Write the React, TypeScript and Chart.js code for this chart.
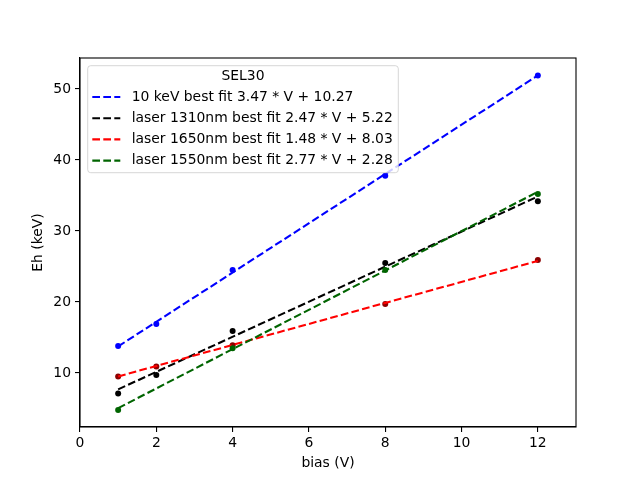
import React, { useEffect, useRef } from "react";
import { Chart, registerables } from "chart.js";

Chart.register(...registerables);

// measured points
const blueX = [1, 2, 4, 8, 12];
const blueY = [13.8, 16.9, 24.5, 37.8, 51.9];
const blackX = [1, 2, 4, 8, 12];
const blackY = [7.1, 9.7, 15.9, 25.5, 34.2];
const redX = [1, 2, 4, 8, 12];
const redY = [9.5, 10.9, 13.9, 19.7, 25.9];
const greenX = [1, 4, 8, 12];
const greenY = [4.8, 13.5, 24.5, 35.2];

// best fit lines, ends at 1 V and 12 V
const fitX = [1, 12];
const fitBlue = [13.74, 51.91];
const fitBlack = [7.69, 34.86];
const fitRed = [9.51, 25.79];
const fitGreen = [5.05, 35.52];

const fitLabels = [
  "10 keV best fit 3.47 * V + 10.27",
  "laser 1310nm best fit 2.47 * V + 5.22",
  "laser 1650nm best fit 1.48 * V + 8.03",
  "laser 1550nm best fit 2.77 * V + 2.28",
];
const legendTitle = "SEL30";

const xTicks = [0, 2, 4, 6, 8, 10, 12];
const yTicks = [10, 20, 30, 40, 50];

const FONT = "DejaVu Sans";
const FS = 13.9;
const DASH = [7.7, 3.3];
const LW = 2.08;
const lineColors = ["#0000ff", "#000000", "#ff0000", "#006400"];
const dotColors = ["#0000ff", "#000000", "#8b0000", "#006400"];

const pts = (xs: number[], ys: number[]) => xs.map((x, i) => ({ x, y: ys[i] }));

const framePlugin = {
  id: "frame",
  afterDraw(chart: any) {
    const { ctx, chartArea } = chart;
    ctx.save();
    ctx.strokeStyle = "#000";
    ctx.lineWidth = 1.1;
    ctx.strokeRect(chartArea.left, chartArea.top, chartArea.right - chartArea.left, chartArea.bottom - chartArea.top);

    // legend box
    const bx = 87.7, by = 65.7, bw = 310.6, bh = 107;
    ctx.beginPath();
    ctx.roundRect(bx, by, bw, bh, 3);
    ctx.fillStyle = "rgba(255,255,255,0.8)";
    ctx.fill();
    ctx.strokeStyle = "rgba(204,204,204,0.8)";
    ctx.lineWidth = 1;
    ctx.stroke();

    ctx.font = `${FS}px "${FONT}"`;
    ctx.fillStyle = "#000";
    ctx.textBaseline = "middle";
    ctx.textAlign = "center";
    ctx.fillText(legendTitle, bx + bw / 2, 76.5);
    ctx.textAlign = "left";
    const rows = [97, 118.2, 139.4, 160.6];
    fitLabels.forEach((label, i) => {
      ctx.beginPath();
      ctx.setLineDash(DASH);
      ctx.strokeStyle = lineColors[i];
      ctx.lineWidth = LW;
      ctx.moveTo(92.3, rows[i]);
      ctx.lineTo(120.3, rows[i]);
      ctx.stroke();
      ctx.setLineDash([]);
      ctx.fillStyle = "#000";
      ctx.fillText(label, 131.7, rows[i]);
    });
    ctx.restore();
  },
};

const App: React.FC = () => {
  const canvasRef = useRef<HTMLCanvasElement | null>(null);

  useEffect(() => {
    if (!canvasRef.current) return;
    const fits = [fitBlue, fitBlack, fitRed, fitGreen];
    const series = [
      [blueX, blueY],
      [blackX, blackY],
      [redX, redY],
      [greenX, greenY],
    ];
    const datasets: any[] = [];
    series.forEach(([xs, ys], i) => {
      datasets.push({
        type: "scatter",
        label: "points " + i,
        data: pts(xs, ys),
        pointRadius: 3,
        pointBorderWidth: 0,
        backgroundColor: dotColors[i],
        borderColor: dotColors[i],
        order: 10 - i * 2,
      });
      datasets.push({
        type: "line",
        label: fitLabels[i],
        data: pts(fitX, fits[i]),
        borderColor: lineColors[i],
        borderWidth: LW,
        borderDash: DASH,
        pointRadius: 0,
        fill: false,
        order: 9 - i * 2,
      });
    });

    const tickFont = { family: FONT, size: FS };
    const chart = new Chart(canvasRef.current, {
      type: "scatter",
      data: { datasets },
      options: {
        responsive: false,
        animation: false,
        devicePixelRatio: 1,
        layout: { padding: { top: 58, right: 64, left: 0, bottom: 0 } },
        plugins: { legend: { display: false }, tooltip: { enabled: false } },
        scales: {
          x: {
            type: "linear",
            min: 0,
            max: 13,
            afterBuildTicks: (s: any) => {
              s.ticks = xTicks.map((v) => ({ value: v }));
            },
            afterFit: (s: any) => {
              s.height = 53;
            },
            grid: { drawOnChartArea: false, drawTicks: true, tickLength: 5, color: "#000", lineWidth: 1.1 },
            border: { color: "#000", width: 1.1 },
            ticks: { color: "#000", font: tickFont, padding: 3, maxRotation: 0 },
            title: {
              display: true,
              text: "bias (V)",
              color: "#000",
              font: tickFont,
              padding: { top: 0, bottom: 8.7 },
            },
          },
          y: {
            type: "linear",
            min: 2.39,
            max: 54.37,
            afterBuildTicks: (s: any) => {
              s.ticks = yTicks.map((v) => ({ value: v }));
            },
            afterFit: (s: any) => {
              s.width = 80;
            },
            grid: { drawOnChartArea: false, drawTicks: true, tickLength: 5, color: "#000", lineWidth: 1.1 },
            border: { color: "#000", width: 1.1 },
            ticks: { color: "#000", font: tickFont, padding: 4 },
            title: {
              display: true,
              text: "Eh (keV)",
              color: "#000",
              font: tickFont,
              padding: { top: 29.7, bottom: 0 },
            },
          },
        },
      },
      plugins: [framePlugin],
    });
    return () => chart.destroy();
  }, []);

  return (
    <div style={{ position: "fixed", left: 0, top: 0, width: 640, height: 480, background: "#fff" }}>
      <canvas ref={canvasRef} width={640} height={480}></canvas>
    </div>
  );
};

export default App;
